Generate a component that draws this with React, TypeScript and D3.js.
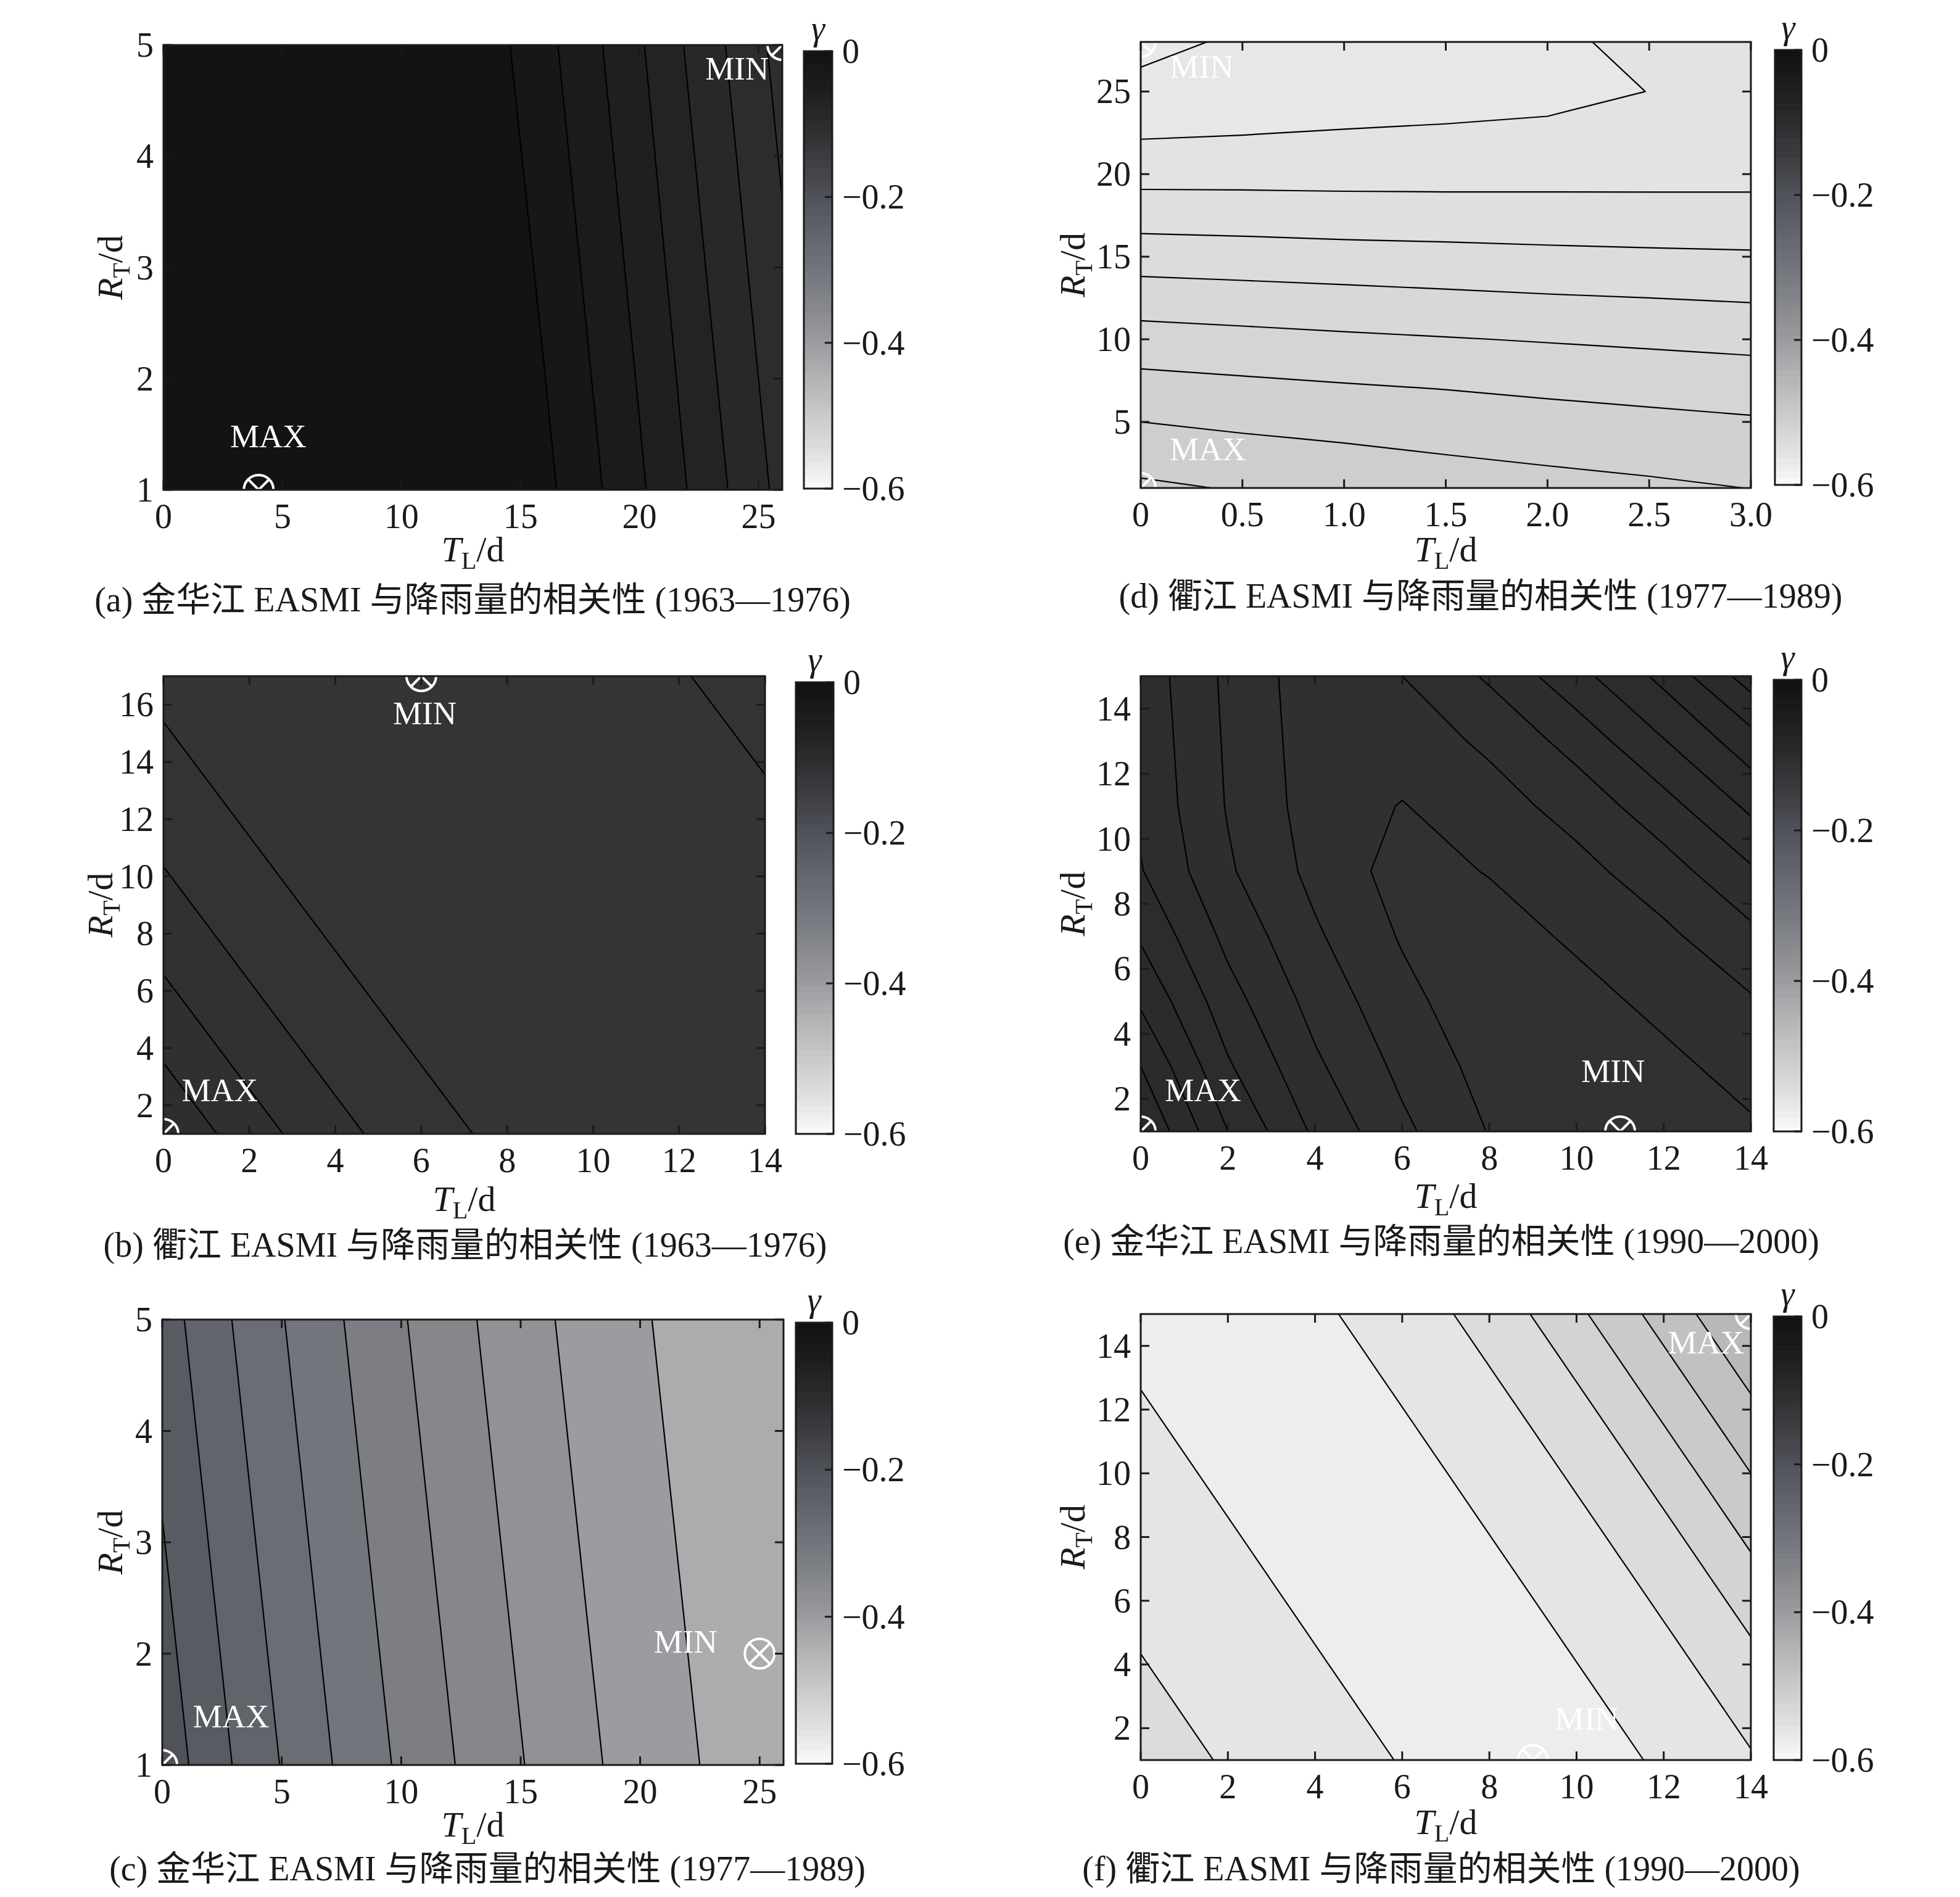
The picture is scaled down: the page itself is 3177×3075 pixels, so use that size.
import React from 'react';
import * as d3 from 'd3';

const WIDTH = 3177;
const HEIGHT = 3075;
const FONT = "'Liberation Serif', 'Times New Roman', Times, 'Noto Sans CJK SC', serif";

// ---------- colour map ----------
const CMAP_VALUES = [0, -0.05, -0.1, -0.15, -0.2, -0.25, -0.3, -0.35, -0.4, -0.45, -0.5, -0.55, -0.6];
const CMAP_COLORS = ['#111111', '#1d1d1e', '#2c2c2e', '#3d3e42', '#4f5259', '#61646b', '#72757b', '#85878b', '#9a9ca0', '#b3b4b5', '#cacaca', '#e0e0e0', '#fafafa'];
const CBAR_TICKS = [0, -0.2, -0.4, -0.6];
const CBAR_LABELS = ['0', '\u22120.2', '\u22120.4', '\u22120.6'];
const CBAR_STEPS = 64;

// ---------- (a) 金华江 1963—1976 ----------
const A_TL = [0, 2, 4, 6, 8, 10, 12, 14, 16, 18, 20, 22, 24, 26];
const A_RT = [1, 5];
const A_Z = [
  [-0.003, -0.002, -0.001, -0.0015, -0.002, -0.003, -0.0035, -0.0045, -0.006, -0.0214, -0.0375, -0.055, -0.0725, -0.0896],
  [-0.0021, -0.0011, -0.0015, -0.002, -0.0029, -0.0035, -0.0044, -0.0059, -0.0205, -0.0362, -0.0531, -0.0713, -0.0883, -0.1055],
];
const A_LEVELS = [-0.1, -0.085, -0.07, -0.055, -0.04, -0.025, -0.01];
const A_XTICKS = [0, 5, 10, 15, 20, 25];
const A_XLABELS = ['0', '5', '10', '15', '20', '25'];
const A_YTICKS = [1, 2, 3, 4, 5];
const A_YLABELS = ['1', '2', '3', '4', '5'];
const A_MARKS = [
  { name: 'MAX', T: 4, R: 1, lT: 4.4, lR: 1.48 },
  { name: 'MIN', T: 26, R: 5, lT: 24.1, lR: 4.79 },
];

// ---------- (b) 衢江 1963—1976 ----------
const B_TL = [0, 1, 2, 3, 4, 5, 6, 7, 8, 9, 10, 11, 12, 13, 14];
const B_RT = [1, 3, 5, 7, 9, 11, 13, 15, 17];
const B_Z = [
  [-0.1, -0.10417, -0.10758, -0.11068, -0.1134, -0.11579, -0.1177, -0.119925, -0.1203, -0.12068, -0.12106, -0.12144, -0.12182, -0.1222, -0.12242],
  [-0.10417, -0.10758, -0.11068, -0.1134, -0.11579, -0.1177, -0.119925, -0.1203, -0.12068, -0.12106, -0.12144, -0.12182, -0.1222, -0.12242, -0.12205],
  [-0.10758, -0.11068, -0.1134, -0.11579, -0.1177, -0.119925, -0.1203, -0.12068, -0.12106, -0.12144, -0.12182, -0.1222, -0.12242, -0.12205, -0.12167],
  [-0.11068, -0.1134, -0.11579, -0.1177, -0.119925, -0.1203, -0.12068, -0.12106, -0.12144, -0.12182, -0.1222, -0.12242, -0.12205, -0.12167, -0.1213],
  [-0.1134, -0.11579, -0.1177, -0.119925, -0.1203, -0.12068, -0.12106, -0.12144, -0.12182, -0.1222, -0.12242, -0.12205, -0.12167, -0.1213, -0.12092],
  [-0.11579, -0.1177, -0.119925, -0.1203, -0.12068, -0.12106, -0.12144, -0.12182, -0.1222, -0.12242, -0.12205, -0.12167, -0.1213, -0.12092, -0.12055],
  [-0.1177, -0.119925, -0.1203, -0.12068, -0.12106, -0.12144, -0.12182, -0.1222, -0.12242, -0.12205, -0.12167, -0.1213, -0.12092, -0.12055, -0.12017],
  [-0.119925, -0.1203, -0.12068, -0.12106, -0.12144, -0.12182, -0.1222, -0.12242, -0.12205, -0.12167, -0.1213, -0.12092, -0.12055, -0.12017, -0.11956],
  [-0.1203, -0.12068, -0.12106, -0.12144, -0.12182, -0.1222, -0.12242, -0.12205, -0.12167, -0.1213, -0.12092, -0.12055, -0.12017, -0.11956, -0.11876],
];
const B_LEVELS = [-0.12, -0.115, -0.11, -0.105];
const B_XTICKS = [0, 2, 4, 6, 8, 10, 12, 14];
const B_XLABELS = ['0', '2', '4', '6', '8', '10', '12', '14'];
const B_YTICKS = [2, 4, 6, 8, 10, 12, 14, 16];
const B_YLABELS = ['2', '4', '6', '8', '10', '12', '14', '16'];
const B_MARKS = [
  { name: 'MAX', T: 0, R: 1, lT: 1.31, lR: 2.53 },
  { name: 'MIN', T: 6, R: 17, lT: 6.08, lR: 15.7 },
];

// ---------- (c) 金华江 1977—1989 ----------
const C_TL = [0, 2, 4, 6, 8, 10, 12, 14, 16, 18, 20, 22, 24, 26];
const C_RT = [1, 5];
const C_Z = [
  [-0.184, -0.2128, -0.2392, -0.2629, -0.2844, -0.3039, -0.3227, -0.3403, -0.3569, -0.3722, -0.3849, -0.397, -0.4091, -0.4212],
  [-0.2128, -0.2392, -0.2629, -0.2844, -0.3039, -0.3227, -0.3403, -0.3569, -0.3722, -0.3849, -0.397, -0.4091, -0.4212, -0.4333],
];
const C_LEVELS = [-0.4, -0.375, -0.35, -0.325, -0.3, -0.275, -0.25, -0.225, -0.2];
const C_XTICKS = [0, 5, 10, 15, 20, 25];
const C_XLABELS = ['0', '5', '10', '15', '20', '25'];
const C_YTICKS = [1, 2, 3, 4, 5];
const C_YLABELS = ['1', '2', '3', '4', '5'];
const C_MARKS = [
  { name: 'MAX', T: 0, R: 1, lT: 2.88, lR: 1.44 },
  { name: 'MIN', T: 25, R: 2, lT: 21.9, lR: 2.11 },
];

// ---------- (d) 衢江 1977—1989 ----------
const D_TL = [0, 0.5, 1, 1.5, 2, 2.5, 3];
const D_RT = [1, 4, 7, 10, 13, 16, 19, 22, 25, 28];
const D_Z = [
  [-0.4986, -0.5006, -0.5022, -0.5039, -0.5054, -0.5067, -0.5081],
  [-0.5056, -0.5073, -0.5086, -0.51, -0.5112, -0.5122, -0.5132],
  [-0.5128, -0.514, -0.5151, -0.5161, -0.5172, -0.5182, -0.5192],
  [-0.5207, -0.5217, -0.5227, -0.5236, -0.5245, -0.5254, -0.5263],
  [-0.5295, -0.5303, -0.5311, -0.5319, -0.5327, -0.5333, -0.534],
  [-0.5388, -0.5393, -0.5399, -0.5403, -0.5408, -0.5412, -0.5415],
  [-0.5478, -0.5479, -0.5481, -0.5482, -0.5482, -0.5482, -0.5482],
  [-0.5558, -0.5554, -0.5549, -0.5544, -0.5535, -0.5525, -0.552],
  [-0.5613, -0.5604, -0.5595, -0.559, -0.5585, -0.5559, -0.5535],
  [-0.5668, -0.5625, -0.5605, -0.559, -0.5575, -0.5541, -0.553],
];
const D_LEVELS = [-0.564, -0.556, -0.548, -0.54, -0.532, -0.524, -0.516, -0.508, -0.5];
const D_XTICKS = [0, 0.5, 1, 1.5, 2, 2.5, 3];
const D_XLABELS = ['0', '0.5', '1.0', '1.5', '2.0', '2.5', '3.0'];
const D_YTICKS = [5, 10, 15, 20, 25];
const D_YLABELS = ['5', '10', '15', '20', '25'];
const D_MARKS = [
  { name: 'MAX', T: 0, R: 1, lT: 0.33, lR: 3.35 },
  { name: 'MIN', T: 0, R: 28, lT: 0.3, lR: 26.5 },
];

// ---------- (e) 金华江 1990—2000 ----------
const E_TL = [0, 2, 4, 6, 8, 10, 12, 14];
const E_RT = [1, 3, 5, 7, 9, 11, 13, 15];
const E_Z = [
  [-0.09, -0.0975, -0.10295, -0.10696, -0.11012, -0.1125, -0.11187, -0.11037],
  [-0.0925, -0.09969, -0.10455, -0.10813, -0.11095, -0.11212, -0.11062, -0.10908],
  [-0.09536, -0.1015, -0.10589, -0.10922, -0.11179, -0.11087, -0.10934, -0.10776],
  [-0.09781, -0.10318, -0.10714, -0.11024, -0.11112, -0.1096, -0.10803, -0.10565],
  [-0.09984, -0.10466, -0.1082, -0.11101, -0.10987, -0.10829, -0.10611, -0.10286],
  [-0.1005, -0.10518, -0.10859, -0.11012, -0.10855, -0.10657, -0.10345, -0.09949],
  [-0.10075, -0.10536, -0.10875, -0.10881, -0.10704, -0.10405, -0.10014, -0.09606],
  [-0.101, -0.10554, -0.10891, -0.1075, -0.10464, -0.10083, -0.09682, -0.0913],
];
const E_LEVELS = [-0.11, -0.1075, -0.105, -0.1025, -0.1, -0.0975, -0.095, -0.0925];
const E_XTICKS = [0, 2, 4, 6, 8, 10, 12, 14];
const E_XLABELS = ['0', '2', '4', '6', '8', '10', '12', '14'];
const E_YTICKS = [2, 4, 6, 8, 10, 12, 14];
const E_YLABELS = ['2', '4', '6', '8', '10', '12', '14'];
const E_MARKS = [
  { name: 'MAX', T: 0, R: 1, lT: 1.43, lR: 2.27 },
  { name: 'MIN', T: 11, R: 1, lT: 10.84, lR: 2.85 },
];

// ---------- (f) 衢江 1990—2000 ----------
const F_TL = [0, 1, 2, 3, 4, 5, 6, 7, 8, 9, 10, 11, 12, 13, 14];
const F_RT = [1, 3, 5, 7, 9, 11, 13, 15];
const F_Z = [
  [-0.532, -0.5368, -0.5416, -0.5465, -0.5513, -0.5561, -0.5609, -0.5656, -0.5703, -0.575, -0.5692, -0.5635, -0.557, -0.5494, -0.5419],
  [-0.5368, -0.5416, -0.5465, -0.5513, -0.5561, -0.5609, -0.5656, -0.5703, -0.575, -0.5692, -0.5635, -0.557, -0.5494, -0.5419, -0.5312],
  [-0.5416, -0.5465, -0.5513, -0.5561, -0.5609, -0.5656, -0.5703, -0.575, -0.5692, -0.5635, -0.557, -0.5494, -0.5419, -0.5312, -0.5192],
  [-0.5465, -0.5513, -0.5561, -0.5609, -0.5656, -0.5703, -0.575, -0.5692, -0.5635, -0.557, -0.5494, -0.5419, -0.5312, -0.5192, -0.5042],
  [-0.5513, -0.5561, -0.5609, -0.5656, -0.5703, -0.575, -0.5692, -0.5635, -0.557, -0.5494, -0.5419, -0.5312, -0.5192, -0.5042, -0.4882],
  [-0.5561, -0.5609, -0.5656, -0.5703, -0.575, -0.5692, -0.5635, -0.557, -0.5494, -0.5419, -0.5312, -0.5192, -0.5042, -0.4882, -0.4719],
  [-0.5609, -0.5656, -0.5703, -0.575, -0.5692, -0.5635, -0.557, -0.5494, -0.5419, -0.5312, -0.5192, -0.5042, -0.4882, -0.4719, -0.4559],
  [-0.5656, -0.5703, -0.575, -0.5692, -0.5635, -0.557, -0.5494, -0.5419, -0.5312, -0.5192, -0.5042, -0.4882, -0.4719, -0.4559, -0.44],
];
const F_LEVELS = [-0.56, -0.54, -0.52, -0.5, -0.48, -0.46];
const F_XTICKS = [0, 2, 4, 6, 8, 10, 12, 14];
const F_XLABELS = ['0', '2', '4', '6', '8', '10', '12', '14'];
const F_YTICKS = [2, 4, 6, 8, 10, 12, 14];
const F_YLABELS = ['2', '4', '6', '8', '10', '12', '14'];
const F_MARKS = [
  { name: 'MAX', T: 14, R: 15, lT: 12.97, lR: 14.1 },
  { name: 'MIN', T: 9, R: 1, lT: 10.24, lR: 2.29 },
];

const CAPTIONS = [
  '(a) 金华江 EASMI 与降雨量的相关性 (1963—1976)',
  '(b) 衢江 EASMI 与降雨量的相关性 (1963—1976)',
  '(c) 金华江 EASMI 与降雨量的相关性 (1977—1989)',
  '(d) 衢江 EASMI 与降雨量的相关性 (1977—1989)',
  '(e) 金华江 EASMI 与降雨量的相关性 (1990—2000)',
  '(f) 衢江 EASMI 与降雨量的相关性 (1990—2000)',
];

// ---------- layout (pixels) ----------
const LAYOUT = {
  a: { box: { x0: 265, x1: 1268, y0: 73, y1: 794 }, cb: { x0: 1303, x1: 1349, y0: 83, y1: 792 }, capX: 766, capY: 991, xtY: 910, ytX: 198 },
  b: { box: { x0: 265, x1: 1240, y0: 1096, y1: 1838 }, cb: { x0: 1290, x1: 1351, y0: 1106, y1: 1838 }, capX: 754, capY: 2037, xtY: 1963, ytX: 182 },
  c: { box: { x0: 263, x1: 1270, y0: 2139, y1: 2861 }, cb: { x0: 1290, x1: 1349, y0: 2144, y1: 2859 }, capX: 790, capY: 3048, xtY: 2977, ytX: 198 },
  d: { box: { x0: 1849, x1: 2838, y0: 68, y1: 791 }, cb: { x0: 2877, x1: 2920, y0: 81, y1: 786 }, capX: 2400, capY: 985, xtY: 910, ytX: 1758 },
  e: { box: { x0: 1849, x1: 2838, y0: 1096, y1: 1834 }, cb: { x0: 2875, x1: 2920, y0: 1102, y1: 1834 }, capX: 2336, capY: 2031, xtY: 1958, ytX: 1758 },
  f: { box: { x0: 1849, x1: 2838, y0: 2130, y1: 2853 }, cb: { x0: 2875, x1: 2920, y0: 2134, y1: 2853 }, capX: 2336, capY: 3048, xtY: 2973, ytX: 1758 },
};

const PANELS = [
  { id: 'a', tl: A_TL, rt: A_RT, z: A_Z, levels: A_LEVELS, xDomain: [0, 26], yDomain: [1, 5], xt: A_XTICKS, xl: A_XLABELS, yt: A_YTICKS, yl: A_YLABELS, marks: A_MARKS, caption: CAPTIONS[0] },
  { id: 'b', tl: B_TL, rt: B_RT, z: B_Z, levels: B_LEVELS, xDomain: [0, 14], yDomain: [1, 17], xt: B_XTICKS, xl: B_XLABELS, yt: B_YTICKS, yl: B_YLABELS, marks: B_MARKS, caption: CAPTIONS[1] },
  { id: 'c', tl: C_TL, rt: C_RT, z: C_Z, levels: C_LEVELS, xDomain: [0, 26], yDomain: [1, 5], xt: C_XTICKS, xl: C_XLABELS, yt: C_YTICKS, yl: C_YLABELS, marks: C_MARKS, caption: CAPTIONS[2] },
  { id: 'd', tl: D_TL, rt: D_RT, z: D_Z, levels: D_LEVELS, xDomain: [0, 3], yDomain: [1, 28], xt: D_XTICKS, xl: D_XLABELS, yt: D_YTICKS, yl: D_YLABELS, marks: D_MARKS, caption: CAPTIONS[3] },
  { id: 'e', tl: E_TL, rt: E_RT, z: E_Z, levels: E_LEVELS, xDomain: [0, 14], yDomain: [1, 15], xt: E_XTICKS, xl: E_XLABELS, yt: E_YTICKS, yl: E_YLABELS, marks: E_MARKS, caption: CAPTIONS[4] },
  { id: 'f', tl: F_TL, rt: F_RT, z: F_Z, levels: F_LEVELS, xDomain: [0, 14], yDomain: [1, 15], xt: F_XTICKS, xl: F_XLABELS, yt: F_YTICKS, yl: F_YLABELS, marks: F_MARKS, caption: CAPTIONS[5] },
];

const cmap = d3.scaleLinear().domain(CMAP_VALUES).range(CMAP_COLORS).interpolate(d3.interpolateRgb).clamp(true);

const TICK_FS = 56;
const TITLE_FS = 58;
const TICK_LEN = 14;

function Panel({ cfg }) {
  const L = LAYOUT[cfg.id];
  const box = L.box;
  const cb = L.cb;
  const x = d3.scaleLinear().domain(cfg.xDomain).range([box.x0, box.x1]);
  const y = d3.scaleLinear().domain(cfg.yDomain).range([box.y1, box.y0]);
  const nx = cfg.tl.length;
  const ny = cfg.rt.length;
  const gx = d3.scaleLinear().domain(cfg.tl.map((_, i) => i + 0.5)).range(cfg.tl);
  const gy = d3.scaleLinear().domain(cfg.rt.map((_, i) => i + 0.5)).range(cfg.rt);
  const values = cfg.z.flat();
  const zmin = d3.min(values);
  const thresholds = [zmin - 1, ...cfg.levels];
  const polys = d3.contours().size([nx, ny]).thresholds(thresholds)(values);
  const proj = d3.geoTransform({
    point(px, py) {
      this.stream.point(x(gx(px)), y(gy(py)));
    },
  });
  const path = d3.geoPath(proj);
  const clipId = 'clip-' + cfg.id;

  const cbScale = d3.scaleLinear().domain([-0.6, 0]).range([cb.y1, cb.y0]);
  const stepV = 0.6 / CBAR_STEPS;
  const steps = d3.range(CBAR_STEPS).map((i) => {
    const v0 = -0.6 + i * stepV;
    const v1 = v0 + stepV;
    return { y: cbScale(v1), h: cbScale(v0) - cbScale(v1), c: cmap((v0 + v1) / 2) };
  });

  const cx = (box.x0 + box.x1) / 2;
  const cy = (box.y0 + box.y1) / 2;

  return (
    <g>
      <defs>
        <clipPath id={clipId}>
          <rect x={box.x0} y={box.y0} width={box.x1 - box.x0} height={box.y1 - box.y0} />
        </clipPath>
      </defs>
      <g clipPath={`url(#${clipId})`}>
        {polys.map((p, i) => (
          <path key={'f' + i} d={path(p)} fill={i === 0 ? cmap(zmin) : cmap(p.value)} stroke="none" />
        ))}
        {polys.slice(1).map((p, i) => (
          <path key={'l' + i} d={path(p)} fill="none" stroke="#000" strokeWidth={2.2} strokeLinejoin="round" />
        ))}
        {cfg.marks.map((m, i) => {
          const mx = x(m.T);
          const my = y(m.R);
          const r = 24;
          const d = r * Math.SQRT1_2;
          return (
            <g key={'m' + i} stroke="#fff" strokeWidth={4} fill="none">
              <circle cx={mx} cy={my} r={r} />
              <line x1={mx - d} y1={my - d} x2={mx + d} y2={my + d} />
              <line x1={mx - d} y1={my + d} x2={mx + d} y2={my - d} />
            </g>
          );
        })}
      </g>
      {cfg.marks.map((m, i) => (
        <text key={'t' + i} x={x(m.lT)} y={y(m.lR) + 18} fill="#fff" fontSize={53} textAnchor="middle" fontFamily={FONT}>
          {m.name}
        </text>
      ))}
      <rect x={box.x0} y={box.y0} width={box.x1 - box.x0} height={box.y1 - box.y0} fill="none" stroke="#1a1a1a" strokeWidth={3} />
      <g stroke="#1a1a1a" strokeWidth={3}>
        {cfg.xt.map((t, i) => (
          <g key={'xt' + i}>
            <line x1={x(t)} x2={x(t)} y1={box.y1} y2={box.y1 - TICK_LEN} />
            <line x1={x(t)} x2={x(t)} y1={box.y0} y2={box.y0 + TICK_LEN} />
          </g>
        ))}
        {cfg.yt.map((t, i) => (
          <g key={'yt' + i}>
            <line x1={box.x0} x2={box.x0 + TICK_LEN} y1={y(t)} y2={y(t)} />
            <line x1={box.x1} x2={box.x1 - TICK_LEN} y1={y(t)} y2={y(t)} />
          </g>
        ))}
      </g>
      <g fontFamily={FONT} fontSize={TICK_FS} fill="#1a1a1a">
        {cfg.xt.map((t, i) => (
          <text key={'xl' + i} x={x(t)} y={box.y1 + 62} textAnchor="middle">{cfg.xl[i]}</text>
        ))}
        {cfg.yt.map((t, i) => (
          <text key={'yl' + i} x={box.x0 - 16} y={y(t) + 19} textAnchor="end">{cfg.yl[i]}</text>
        ))}
      </g>
      <text x={cx} y={L.xtY} textAnchor="middle" fontFamily={FONT} fontSize={TITLE_FS} fill="#1a1a1a">
        <tspan fontStyle="italic">T</tspan>
        <tspan fontSize={40} dy={12}>L</tspan>
        <tspan dy={-12}>/d</tspan>
      </text>
      <text transform={`translate(${L.ytX},${cy}) rotate(-90)`} textAnchor="middle" fontFamily={FONT} fontSize={TITLE_FS} fill="#1a1a1a">
        <tspan fontStyle="italic">R</tspan>
        <tspan fontSize={40} dy={12}>T</tspan>
        <tspan dy={-12}>/d</tspan>
      </text>
      <g>
        {steps.map((s, i) => (
          <rect key={'cb' + i} x={cb.x0} y={s.y} width={cb.x1 - cb.x0} height={s.h + 0.6} fill={s.c} />
        ))}
        <rect x={cb.x0} y={cb.y0} width={cb.x1 - cb.x0} height={cb.y1 - cb.y0} fill="none" stroke="#1a1a1a" strokeWidth={3} />
        {CBAR_TICKS.map((t, i) => (
          <g key={'cbt' + i}>
            <line x1={cb.x1} x2={cb.x1 - 12} y1={cbScale(t)} y2={cbScale(t)} stroke="#1a1a1a" strokeWidth={3} />
            <text x={cb.x1 + 16} y={cbScale(t) + 19} fontFamily={FONT} fontSize={TICK_FS} fill="#1a1a1a">{CBAR_LABELS[i]}</text>
          </g>
        ))}
        <text x={(cb.x0 + cb.x1) / 2} y={cb.y0 - 18} textAnchor="middle" fontFamily={FONT} fontStyle="italic" fontSize={56} fill="#1a1a1a">γ</text>
      </g>
      <text x={L.capX} y={L.capY} textAnchor="middle" fontFamily={FONT} fontSize={56} fill="#1a1a1a">{cfg.caption}</text>
    </g>
  );
}

export default function App() {
  return (
    <svg
      width={WIDTH}
      height={HEIGHT}
      viewBox={`0 0 ${WIDTH} ${HEIGHT}`}
      style={{ position: 'absolute', left: 0, top: 0, background: '#fff' }}
    >
      <rect x={0} y={0} width={WIDTH} height={HEIGHT} fill="#fff" />
      {PANELS.map((p) => (
        <Panel key={p.id} cfg={p} />
      ))}
    </svg>
  );
}
